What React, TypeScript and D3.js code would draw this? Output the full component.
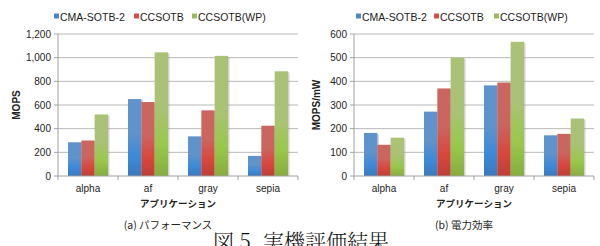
import React from 'react';
import * as d3 from 'd3';

// data
const apps = ["alpha", "af", "gray", "sepia"];
const seriesNames = ["CMA-SOTB-2", "CCSOTB", "CCSOTB(WP)"];
const mopsCma = [285, 650, 335, 170];
const mopsCc = [300, 625, 555, 425];
const mopsWp = [520, 1045, 1015, 885];
const effCma = [182, 272, 383, 172];
const effCc = [132, 370, 395, 178];
const effWp = [162, 500, 567, 243];
const mopsTicks = [0, 200, 400, 600, 800, 1000, 1200];
const effTicks = [0, 100, 200, 300, 400, 500, 600];

// top / middle / bottom colours of the bar gradients
const gradients = [
  ["#5f93cb", "#3b8ad9", "#3a79bd"],
  ["#cb6560", "#d8473e", "#bd3f37"],
  ["#a9c275", "#98c84a", "#86ad3f"],
];
const legendColors = ["#4a86c8", "#d0504a", "#9bbb59"];

const latin = '"Liberation Sans", Arial, sans-serif';
const jp = '"Noto Sans CJK JP", sans-serif';

type ChartProps = {
  x0: number;
  yLabel: string;
  series: number[][];
  ticks: number[];
  fmt: (v: number) => string;
  caption: string;
  legendX: number[];
  labelX: number;
};

const Chart = ({ x0, yLabel, series, ticks, fmt, caption, legendX, labelX }: ChartProps) => {
  const left = x0;
  const right = x0 + 240;
  const top = 34;
  const bottom = 176;
  const y = d3.scaleLinear().domain([0, ticks[ticks.length - 1]]).range([bottom, top]);
  const x = d3.scaleBand().domain(apps).range([left, right]);
  const inner = d3.scaleBand<number>().domain([0, 1, 2]).range([10, 50]);

  return (
    <g>
      {/* legend */}
      {seriesNames.map((s, i) => (
        <g key={s}>
          <rect x={legendX[i] - 6} y={13.5} width={5} height={5} fill={legendColors[i]} />
          <text x={legendX[i]} y={20.5} fontFamily={latin} fontSize={10.5} fill="#222">{s}</text>
        </g>
      ))}
      {/* grid + tick labels */}
      {ticks.map(t => (
        <g key={t}>
          {t > 0 && <line x1={left} x2={right} y1={y(t)} y2={y(t)} stroke="#b8b8b8" strokeWidth={1} />}
          <line x1={left - 4} x2={left} y1={y(t)} y2={y(t)} stroke="#a0a0a0" />
          <text x={left - 7} y={y(t) + 3.5} textAnchor="end" fontFamily={latin} fontSize={10} fill="#222">{fmt(t)}</text>
        </g>
      ))}
      {/* bars */}
      {apps.map((a, ai) => (
        <g key={a}>
          {series.map((vals, si) => {
            const bx = (x(a) as number) + (inner(si) as number);
            const bw = inner.bandwidth();
            const by = y(vals[ai]);
            return (
              <g key={si}>
                <rect x={bx + 1.5} y={by + 1} width={bw} height={bottom - by - 1} fill="#9a9a9a" opacity={0.45} />
                <rect x={bx} y={by} width={bw} height={bottom - by} fill={`url(#grad${si})`} />
              </g>
            );
          })}
        </g>
      ))}
      {/* axes */}
      <line x1={left} x2={left} y1={top} y2={bottom} stroke="#a0a0a0" />
      <line x1={left} x2={right} y1={bottom} y2={bottom} stroke="#a0a0a0" />
      {apps.concat(["end"]).map((a, i) => {
        const tx = left + i * x.bandwidth();
        return <line key={a} x1={tx} x2={tx} y1={bottom} y2={bottom + 4} stroke="#a0a0a0" />;
      })}
      {apps.map(a => (
        <text key={a} x={(x(a) as number) + x.bandwidth() / 2} y={192} textAnchor="middle" fontFamily={latin} fontSize={10} fill="#222">{a}</text>
      ))}
      <text x={left + 120} y={206.5} textAnchor="middle" fontFamily={jp} fontSize={9.5} fontWeight="bold" fill="#222">アプリケーション</text>
      <text transform={`translate(${labelX},${(top + bottom) / 2}) rotate(-90)`} textAnchor="middle" fontFamily={latin} fontSize={10} fontWeight="bold" fill="#222">{yLabel}</text>
      <text x={left + 110} y={229} textAnchor="middle" fontFamily={jp} fontSize={10.5} fill="#222">{caption}</text>
    </g>
  );
};

const App = () => {
  return (
    <div style={{ position: 'absolute', left: 0, top: 0 }}>
      <svg width={600} height={246} style={{ display: 'block', background: '#fff' }}>
        <defs>
          {gradients.map((g, i) => (
            <linearGradient key={i} id={`grad${i}`} x1="0" y1="0" x2="0" y2="1">
              <stop offset="0%" stopColor={g[0]} />
              <stop offset="45%" stopColor={g[0]} />
              <stop offset="75%" stopColor={g[1]} />
              <stop offset="100%" stopColor={g[2]} />
            </linearGradient>
          ))}
        </defs>
        <Chart
          x0={58}
          yLabel="MOPS"
          series={[mopsCma, mopsCc, mopsWp]}
          ticks={mopsTicks}
          fmt={d3.format(",")}
          caption="(a) パフォーマンス"
          legendX={[60, 140, 198]}
          labelX={20}
        />
        <Chart
          x0={354}
          yLabel="MOPS/mW"
          series={[effCma, effCc, effWp]}
          ticks={effTicks}
          fmt={d3.format("d")}
          caption="(b) 電力効率"
          legendX={[362, 440, 500]}
          labelX={320}
        />
        <text x={301} y={249} textAnchor="middle" fontFamily='"Noto Serif CJK JP", "Noto Sans CJK JP", serif' fontSize={21} fontWeight={300} fill="#111">図 5. 実機評価結果</text>
      </svg>
    </div>
  );
};

export default App;
